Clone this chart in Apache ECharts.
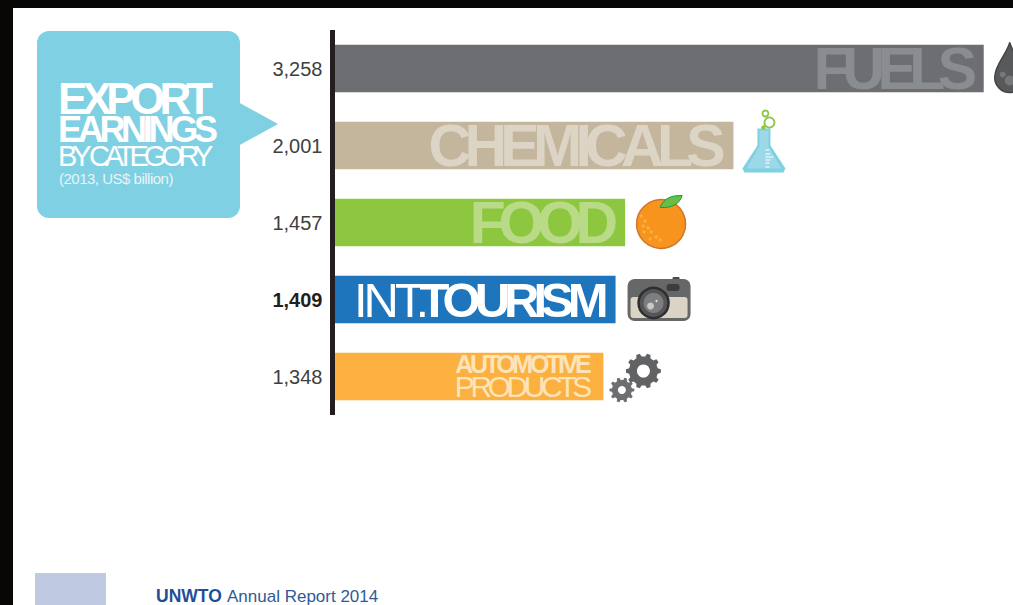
<!DOCTYPE html>
<html><head><meta charset="utf-8">
<style>html,body{margin:0;padding:0;background:#fff}#c{width:1013px;height:605px}</style>
<script src="https://cdn.jsdelivr.net/npm/echarts@6/dist/echarts.min.js"></script>
</head><body><div id="c"></div>
<script>
var tickLabels = ['3,258','2,001','1,457','1,409','1,348'];
var values = [3258,2001,1457,1409,1348];
var barColors = ['#6d6e71','#c4b59d','#8dc63f','#1f75bc','#fbb040'];
var names = ['FUELS','CHEMICALS','FOOD','INT.TOURISM','AUTOMOTIVE PRODUCTS'];
var SANS = '"Liberation Sans"';
// letter tracking for the tight display type (px)
var tracking = {
  'FUELS':-7.5,'CHEMICALS':-6.7,'FOOD':-7.4,'INT.':-4,'TOURISM':-6,'AUTOMOTIVE':-3.3,'PRODUCTS':-4.4,
  'EXPORT':-5.2,'EARNINGS':-4.3,'BY CATEGORY':-5.1,'(2013, US$ billion)':-0.5
};
// reference position of each row: bar end x and centre y
var refEnd = [984,735,625,615,602], refMid = [67,147,223.5,299.5,375.5];

function T(t,x,y,font,fill,align){return {type:'text',style:{text:t,x:x,y:y,font:font,fill:fill,align:align||'right',verticalAlign:'middle'}};}
function C(x,y,r,fill,stroke,lw){return {type:'circle',shape:{cx:x,cy:y,r:r},style:{fill:fill||'none',stroke:stroke||'none',lineWidth:lw||0}};}
function R(x,y,w,h,r,fill){return {type:'rect',shape:{x:x,y:y,width:w,height:h,r:r},style:{fill:fill}};}
function P(pts,fill){return {type:'polygon',shape:{points:pts},style:{fill:fill}};}
function gear(cx,cy,ro,ri,hole,n,fill){
  var pts=[];var st=Math.PI*2/n;
  for(var k=0;k<n;k++){var a=k*st;
    [[-.30,ri],[-.17,ro],[.17,ro],[.30,ri]].forEach(function(p){var t=a+p[0]*st;pts.push([cx+p[1]*Math.cos(t),cy+p[1]*Math.sin(t)]);});}
  return [P(pts,fill),C(cx,cy,hole,'#fff')];
}
var deco = [
  function(){return [
    T('FUELS',970,67,'bold 59px '+SANS,'#8a8d90'),
    {type:'path',shape:{pathData:'M15 0C12 12 0 22 0 35A15 15 0 0 0 30 35C30 22 18 12 15 0Z',x:995,y:41,width:30,height:50},style:{fill:'#58595b',stroke:'#454547',lineWidth:1.5}},
    C(1003,73,3,'#767779'),C(1010,79,5,'#767779')
  ];},
  function(){return [
    T('CHEMICALS',720.5,147,'bold 59px '+SANS,'#dcd4c5'),
    P([[759,130],[772,130],[772,147],[787,170],[785,174],[746,174],[744,170],[759,147]],'#7fd0e2'),
    P([[761,132],[770,132],[770,148],[783,170],[748,170],[761,148]],'#9bd9e8'),
    R(767,151,4,1,0,'#fff'),R(767,155,5,1,0,'#fff'),R(767,158,8,1,0,'#fff'),R(767,161,5,1,0,'#fff'),R(767,164,4,1,0,'#fff'),R(767,168,4,1,0,'#fff'),
    C(767,115,3,'none','#8dc63f',1.8),C(771,124,5,'none','#8dc63f',1.8),C(765,129,2.2,'#8dc63f')
  ];},
  function(){var dots=[[641,217],[645,222],[643,227],[648,229],[651,233],[656,238],[660,241],[644,233],[650,240]];
    return [
    T('FOOD',610.5,223.5,'bold 59px '+SANS,'#b9db88'),
    C(661,225,24.5,'#f7941e','#d2752a',1.5)
  ].concat(dots.map(function(d){return C(d[0],d[1],1.6,'#fbb040');})).concat([
    {type:'path',shape:{pathData:'M0 12C4 2 12 0 22 0C20 8 12 13 0 12Z',x:660,y:196,width:22,height:13},style:{fill:'#6abd45',stroke:'#0f9d4a',lineWidth:1}}
  ]);},
  function(){return [
    T('INT.',424.5,299.5,'49px '+SANS,'#fff'),
    T('TOURISM',602,299.5,'bold 49px '+SANS,'#fff'),
    R(672,277,7,4,1,'#4a4a4c'),
    R(627,279,63,42,7,'#666769'),
    R(630,297,57,21,3,'#dbd3c3'),
    R(666,284,13,7,3,'#3c3c3e'),
    C(653,303,15,'#555657','#2e2e30',2.5),C(653,303,10,'#7d7e80'),C(650,306,3.5,'#c9c9c9'),C(656,301,1.2,'#dddddd')
  ];},
  function(){return [
    T('AUTOMOTIVE',587,362.5,'bold 25px '+SANS,'#fde3b8'),
    T('PRODUCTS',586.5,385.5,'30px '+SANS,'#fde3b8')
  ].concat(gear(642,370,17.5,14.5,6.5,10,'#616264')).concat(gear(620.5,389,12.5,10,4,10,'#6d6e71'));}
];

var chart = echarts.init(document.getElementById('c'),null,{renderer:'svg'});
chart.setOption({
  animation:false,
  graphic:{elements:[
    {type:'rect',z:0,silent:true,shape:{x:0,y:0,width:1013,height:8},style:{fill:'#080705'}},
    {type:'rect',z:0,silent:true,shape:{x:0,y:0,width:13,height:605},style:{fill:'#080705'}},
    {type:'polygon',z:1,silent:true,shape:{points:[[238,102],[278,124],[238,146]]},style:{fill:'#7fd0e2'}},
    {type:'rect',z:1,silent:true,shape:{x:37,y:31,width:203,height:187,r:12},style:{fill:'#7fd0e2'}},
    {type:'text',z:2,silent:true,style:{text:'EXPORT',x:58,y:98,font:'bold 44px '+SANS,fill:'#fff',align:'left',verticalAlign:'middle'}},
    {type:'text',z:2,silent:true,style:{text:'EARNINGS',x:58,y:129,font:'bold 36px '+SANS,fill:'#fff',align:'left',verticalAlign:'middle'}},
    {type:'text',z:2,silent:true,style:{text:'BY CATEGORY',x:58,y:156,font:'29px '+SANS,fill:'#fff',align:'left',verticalAlign:'middle'}},
    {type:'text',z:2,silent:true,style:{text:'(2013, US$ billion)',x:59,y:178,font:'15px '+SANS,fill:'#e6f5f9',align:'left',verticalAlign:'middle'}},
    {type:'rect',z:1,silent:true,shape:{x:35,y:573,width:71,height:32},style:{fill:'#c0c9e2'}},
    {type:'text',z:2,silent:true,style:{text:'UNWTO',x:156,y:596,font:'bold 17.5px '+SANS,fill:'#1f4e96',align:'left',verticalAlign:'middle'}},
    {type:'text',z:2,silent:true,style:{text:'Annual Report 2014',x:227,y:596,font:'17px '+SANS,fill:'#2f5a9a',align:'left',verticalAlign:'middle'}}
  ]},
  grid:{left:335,top:30,width:677,height:385},
  xAxis:{type:'value',min:0,max:3400,show:false},
  yAxis:{type:'category',inverse:true,offset:2.5,
    data:tickLabels.map(function(t){return t==='1,409'?{value:t,textStyle:{fontWeight:'bold',color:'#231f20'}}:t;}),
    axisLine:{show:true,onZero:false,lineStyle:{color:'#231f20',width:5,cap:'butt'}},
    axisTick:{show:false},splitLine:{show:false},
    axisLabel:{margin:10,fontFamily:SANS,fontSize:20,color:'#3f3f3f'}},
  series:[
    {name:'Export earnings',type:'bar',barWidth:47.5,silent:true,
     data:values.map(function(v,i){return {value:v,name:names[i],itemStyle:{color:barColors[i]}};})},
    {type:'custom',silent:true,clip:false,z:5,coordinateSystem:'cartesian2d',
     data:values.map(function(v,i){return [v,i];}),encode:{x:0,y:1},
     renderItem:function(params,api){
       var i=params.dataIndex,p=api.coord([api.value(0),i]);
       return {type:'group',x:p[0]-refEnd[i],y:p[1]-refMid[i],children:deco[i]()};
     }}
  ]
});
function track(){
  document.querySelectorAll('#c text').forEach(function(el){
    var v=tracking[el.textContent];
    if(v!==undefined) el.setAttribute('letter-spacing',v);
  });
}
track();chart.on('finished',track);
</script></body></html>
